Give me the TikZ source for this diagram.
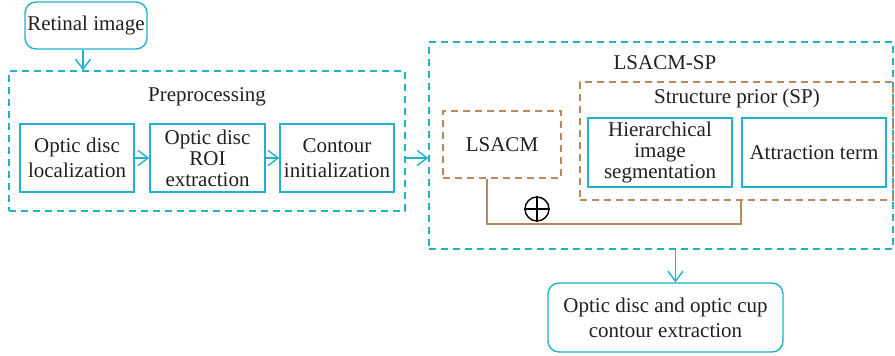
\documentclass[tikz,border=0pt]{standalone}
\usepackage{fontspec}
\setmainfont{Liberation Serif}
\usetikzlibrary{arrows.meta}
\definecolor{flowcyan}{RGB}{33,177,201}
\definecolor{spbrown}{RGB}{186,136,96}
\definecolor{inkgray}{RGB}{35,31,32}
\tikzset{
  every node/.style={text=inkgray, font=\fontsize{21}{25}\selectfont, align=center, inner sep=0pt},
  procbox/.style={draw=flowcyan, line width=1.4pt},
  roundbox/.style={procbox, rounded corners=11pt},
  cyanframe/.style={draw=flowcyan, line width=1.4pt, dash pattern=on 7pt off 5pt},
  brownframe/.style={draw=spbrown, line width=1.4pt, dash pattern=on 7pt off 5pt},
  flowarrow/.style={draw=flowcyan, line width=1.4pt, -{Straight Barb[length=10pt,width=15pt,line width=1.4pt]}},
  tight/.style={font=\fontsize{21}{21}\selectfont}
}
\begin{document}
\begin{tikzpicture}[x=1pt,y=-1pt]
\useasboundingbox (0,0) rectangle (895,356);
% containers
\node[cyanframe, minimum width=396pt, minimum height=140pt] (prep) at (207,141) {};
\node[cyanframe, minimum width=464pt, minimum height=207pt] (lsacmsp) at (661,145.5) {};
\node[brownframe, minimum width=313pt, minimum height=118pt] (sp) at (736.5,141) {};
\node (preptitle) at (207,97) {Preprocessing};
\node (lsacmsptitle) at (665,63) {LSACM-SP};
\node (sptitle) at (737,98) {Structure prior (SP)};
% boxes
\node[roundbox, minimum width=122pt, minimum height=47pt] (retinal) at (86,25.5) {Retinal image};
\node[procbox, minimum width=114pt, minimum height=68pt] (locate) at (77,158) {Optic disc\\localization};
\node[procbox, minimum width=115pt, minimum height=68pt, tight] (roi) at (207.5,158) {Optic disc\\ROI\\extraction};
\node[procbox, minimum width=114pt, minimum height=68pt] (init) at (337,158) {Contour\\initialization};
\node[brownframe, minimum width=118pt, minimum height=67pt] (lsacm) at (502,144.5) {LSACM};
\node[procbox, minimum width=144pt, minimum height=69pt, tight] (hier) at (660,152.5) {Hierarchical\\image\\segmentation};
\node[procbox, minimum width=144pt, minimum height=69pt] (attract) at (814,152.5) {Attraction term};
\node[roundbox, minimum width=235pt, minimum height=69pt] (output) at (665.5,317.5) {Optic disc and optic cup\\contour extraction};
% plus sign
\node[draw=black, line width=1.4pt, circle, minimum size=24pt] (plus) at (537,209) {};
\draw[line width=1.4pt] (plus.north) -- (plus.south) (plus.west) -- (plus.east);
% connectors
\draw[flowarrow] ([xshift=-3pt]retinal.south) -- ([xshift=-3pt]retinal.south |- prep.north);
\draw[flowarrow] (locate) -- (roi);
\draw[flowarrow] (roi) -- (init);
\draw[flowarrow] (prep.east |- init) -- (lsacmsp.west |- init);
\draw[flowarrow] ([xshift=10pt]output.north |- lsacmsp.south) -- ([xshift=10pt]output.north);
\coordinate (join) at (741,224);
\draw[draw=spbrown, line width=1.4pt] ([xshift=-15pt]lsacm.south) |- (join) -- (join |- sp.south);
\end{tikzpicture}
\end{document}
